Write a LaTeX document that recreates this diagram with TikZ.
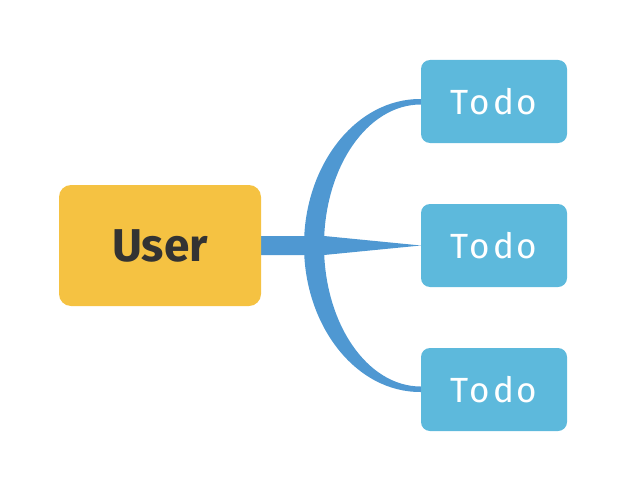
\documentclass[tikz,border=0pt]{standalone}
\usepackage{fontspec}
\setmainfont{Fira Sans}
\newfontfamily\todofont[LetterSpace=8]{Fira Sans}
\usetikzlibrary{backgrounds}
\definecolor{useryellow}{HTML}{F5C242}
\definecolor{todoblue}{HTML}{5DB9DC}
\definecolor{linkblue}{HTML}{4F98D2}
\definecolor{textdark}{HTML}{333333}
\tikzset{
  userbox/.style={fill=useryellow, rounded corners=12pt, minimum width=202pt, minimum height=121pt, inner sep=0pt,
    text=textdark, font=\fontsize{46}{50}\selectfont\bfseries},
  todobox/.style={fill=todoblue, rounded corners=9pt, minimum width=146pt, minimum height=83pt, inner sep=0pt,
    text=white, font=\fontsize{35}{40}\selectfont\todofont},
  link/.style={fill=linkblue, draw=none}
}
\begin{document}
\begin{tikzpicture}[x=1pt,y=-1pt]
\useasboundingbox (0,0) rectangle (628,492);
\node[userbox] (user) at (160,245.5) {User};
\node[todobox] (t1) at (494,101.5) {Todo};
\node[todobox] (t2) at (494,245.5) {Todo};
\node[todobox] (t3) at (494,389.5) {Todo};
\begin{pgfonlayer}{background}
\coordinate (jo) at (304,245.5);
\coordinate (ji) at (324,245.5);
% trunk and spike to middle todo
\fill[link] ([yshift=9.5pt]user.east) -- ++(63,0) -- (t2.west) -- ([yshift=-9.5pt]user.east -| ji) -- ([yshift=-9.5pt]user.east) -- cycle;
% upper branch
\fill[link] (jo) .. controls (304,165) and (356,98.5) .. ([yshift=2.5pt]t1.west)
  -- ([yshift=-3pt]t1.west) .. controls (367,104.5) and (324,168) .. (ji) -- cycle;
% lower branch
\fill[link] (jo) .. controls (304,326) and (356,392.5) .. ([yshift=-2.5pt]t3.west)
  -- ([yshift=3pt]t3.west) .. controls (367,386.5) and (324,323) .. (ji) -- cycle;
\end{pgfonlayer}
\end{tikzpicture}
\end{document}
